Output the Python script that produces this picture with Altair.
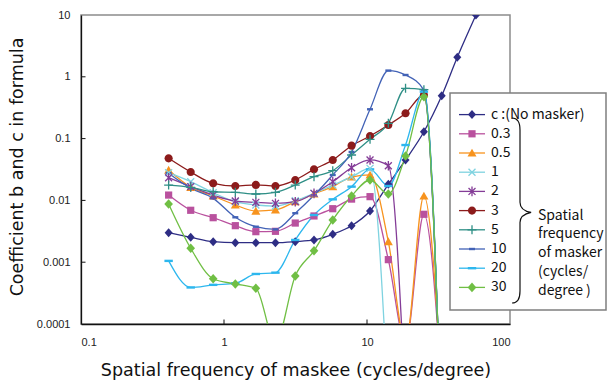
import altair as alt
import pandas as pd

# ---------------- data ----------------
XS = [0.41, 0.585, 0.84, 1.2, 1.67, 2.29, 3.15, 4.26, 5.76, 7.8, 10.5, 14.1, 18.6, 25.0, 33.3, 42.8, 57.8]

C_NO_MASKER = [0.0030, 0.00253, 0.00215, 0.00207, 0.00207, 0.00207, 0.00215, 0.00229, 0.00283,
               0.00389, 0.00673, 0.0182, 0.0451, 0.129, 0.494, 2.07, 10.0]
M03 = [0.0122, 0.00692, 0.00525, 0.0039, 0.00312, 0.00316, 0.0043, 0.0056, 0.00734, 0.0105, 0.0115,
       0.0011, 5e-5, 0.00596, 1e-5]
M05 = [0.031, 0.0163, 0.0118, 0.00843, 0.00673, 0.0070, 0.00952, 0.0127, 0.0167, 0.0239, 0.0258,
       0.00215, 5e-5, 0.0118, 1e-5]
M1 = [0.0281, 0.0201, 0.0133, 0.00953, 0.00843, 0.0081, 0.0099, 0.013, 0.0177, 0.024, 0.033, 5e-6]
M2 = [0.0233, 0.0167, 0.0122, 0.00977, 0.0093, 0.00897, 0.00952, 0.0130, 0.0201, 0.0338, 0.0451,
      0.0364, 5e-6]
M3 = [0.048, 0.0288, 0.0189, 0.0171, 0.0178, 0.0171, 0.0214, 0.0318, 0.0451, 0.0768, 0.110, 0.166,
      0.257, 0.508, 1.6e-6]
M5 = [0.0177, 0.0163, 0.0138, 0.0135, 0.0127, 0.0135, 0.0177, 0.0242, 0.0303, 0.0543, 0.0975, 0.177,
      0.652, 0.62, 1.6e-6]
M10 = [0.0275, 0.0157, 0.0108, 0.00533, 0.00375, 0.0034, 0.0062, 0.0121, 0.0258, 0.0607, 0.298, 1.26,
       1.07, 0.61, 1.6e-6]
M20 = [0.00105, 0.00039, 0.00043, 0.000456, 0.000645, 0.000677, 0.00229, 0.0058, 0.0104, 0.0167,
       0.0318, 0.0171, 0.0787, 0.574, 1.6e-6]
M30 = [0.00875, 0.00168, 0.00054, 0.000444, 0.000378, 5e-5, 0.000598, 0.00153, 0.00482, 0.0118,
       0.0214, 0.0127, 0.0523, 0.476, 1.6e-6]

SERIES = ["c", "0.3", "0.5", "1", "2", "3", "5", "10", "20", "30"]
LABELS = ["c :(No masker)", "0.3", "0.5", "1", "2", "3", "5", "10", "20", "30"]
VALUES = [C_NO_MASKER, M03, M05, M1, M2, M3, M5, M10, M20, M30]

X_TICKS = [1, 10]
Y_TICKS = [0.001, 0.01, 0.1, 1]

# ---------------- styles ----------------
COLORS = ["#2E2D84", "#B9519E", "#F7931E", "#7FD3E0", "#843C97", "#8C1B1B", "#2F8F86",
          "#4262B6", "#2DB7EE", "#70BF44"]
SHAPES = [
    "M0,-0.75L0.667,0L0,0.75L-0.667,0Z",                        # diamond
    "M-0.6,-0.6H0.6V0.6H-0.6Z",                                  # square
    "M0,-0.72L0.75,0.6L-0.75,0.6Z",                              # triangle
    "M-0.58,-0.58L0.58,0.58M-0.58,0.58L0.58,-0.58",              # x
    "M-0.58,-0.58L0.58,0.58M-0.58,0.58L0.58,-0.58M0,-0.8L0,0.8",  # asterisk
    "M-0.68,0A0.68,0.68,0,1,0,0.68,0A0.68,0.68,0,1,0,-0.68,0Z",  # circle
    "M-0.75,0L0.75,0M0,-0.75L0,0.75",                            # plus
    "M-0.5,-0.2H0.5V0.2H-0.5Z",                                  # short dash
    "M-0.7,-0.2H0.7V0.2H-0.7Z",                                  # dash
    "M0,-0.8L0.72,0L0,0.8L-0.72,0Z",                             # diamond
]
FILLED = ["c", "0.3", "0.5", "3", "10", "20", "30"]
STROKED = ["1", "2", "5"]

rows = []
for s, vals in zip(SERIES, VALUES):
    for x, y in zip(XS, vals):
        if y is not None:
            rows.append({"series": s, "x": x, "y": y})
df = pd.DataFrame(rows)

FONT_JP = "Noto Sans CJK JP"
FONT_AX = "Liberation Sans"
FONT_TITLE = "DejaVu Sans"

color = alt.Color("series:N", scale=alt.Scale(domain=SERIES, range=COLORS), legend=None)
shape = alt.Shape("series:N", scale=alt.Scale(domain=SERIES, range=SHAPES), legend=None)

x_enc = alt.X(
    "x:Q",
    scale=alt.Scale(type="log", domain=[0.1, 100]),
    axis=alt.Axis(values=[0.1, 1, 10, 100], format="~g", ticks=False, tickSize=0, grid=False,
                  labelPadding=12, labelFontSize=11, labelFont=FONT_AX, labelColor="#222",
                  domainColor="#111", domainWidth=1.3,
                  title="Spatial frequency of maskee (cycles/degree)",
                  titleFont=FONT_TITLE, titleFontSize=17.5, titleFontWeight="normal", titleColor="#111",
                  titleX=214.5, titleY=46, titleBaseline="middle"),
)
y_enc = alt.Y(
    "y:Q",
    scale=alt.Scale(type="log", domain=[0.0001, 10]),
    axis=alt.Axis(values=[0.0001, 0.001, 0.01, 0.1, 1, 10], format="~g", ticks=False, tickSize=0,
                  grid=False, labelPadding=11, labelFontSize=11, labelFont=FONT_AX, labelColor="#222",
                  domainColor="#111", domainWidth=1.3,
                  title="Coefficient b and c in formula",
                  titleFont=FONT_TITLE, titleFontSize=17.5, titleFontWeight="normal", titleColor="#111",
                  titleX=-64, titleY=151.5, titleAngle=270, titleBaseline="middle", titleAlign="center"),
)

base = alt.Chart(df)
lines = base.mark_line(interpolate="monotone", strokeWidth=1.3, clip=True).encode(
    x=x_enc, y=y_enc, color=color)
pts_f = base.mark_point(filled=True, opacity=1, size=144, clip=True).encode(
    x=x_enc, y=y_enc, color=color, shape=shape
).transform_filter(alt.FieldOneOfPredicate(field="series", oneOf=FILLED)).transform_filter("datum.y >= 0.0001")
pts_s = base.mark_point(filled=False, opacity=1, size=144, strokeWidth=1.3, clip=True).encode(
    x=x_enc, y=y_enc, color=color, shape=shape
).transform_filter(alt.FieldOneOfPredicate(field="series", oneOf=STROKED)).transform_filter("datum.y >= 0.0001")

xt = alt.Chart(pd.DataFrame({"x": X_TICKS})).mark_rule(color="#111", strokeWidth=1).encode(
    x=x_enc, y=alt.value(309), y2=alt.value(304.5))
yt = alt.Chart(pd.DataFrame({"y": Y_TICKS})).mark_rule(color="#111", strokeWidth=1).encode(
    y=y_enc, x=alt.value(0), x2=alt.value(4.5))

data_layer = alt.layer(lines, pts_f, pts_s, xt, yt)

# ---------------- legend (drawn inside a layer of its own) ----------------
leg_df = pd.DataFrame({"series": SERIES, "label": LABELS})
one = pd.DataFrame({"k": [0]})
y_leg = alt.Y("series:N", scale=alt.Scale(domain=SERIES, range=[90, 282], padding=0), axis=None)

box = alt.Chart(one).mark_rect(fill="white", stroke="#7f7f7f", strokeWidth=1.5).encode(
    x=alt.value(369), x2=alt.value(525), y=alt.value(78), y2=alt.value(295))
leg_lines = alt.Chart(leg_df).mark_rule(strokeWidth=1.3).encode(
    x=alt.value(378), x2=alt.value(404), y=y_leg, color=color)
leg_pf = alt.Chart(leg_df).mark_point(filled=True, opacity=1, size=144).encode(
    x=alt.value(391), y=y_leg, color=color, shape=shape
).transform_filter(alt.FieldOneOfPredicate(field="series", oneOf=FILLED))
leg_ps = alt.Chart(leg_df).mark_point(filled=False, opacity=1, size=144, strokeWidth=1.3).encode(
    x=alt.value(391), y=y_leg, color=color, shape=shape
).transform_filter(alt.FieldOneOfPredicate(field="series", oneOf=STROKED))
leg_text = alt.Chart(leg_df).mark_text(align="left", baseline="middle", font=FONT_JP, fontSize=14,
                                        color="#111").encode(x=alt.value(410), y=y_leg, text="label:N")

BRACE = "M-0.086,-1Q0,-1,0,-0.87L0,-0.09Q0,0,0.12,0.02Q0,0.045,0,0.13L0,0.87Q0,1,-0.086,1"
brace = alt.Chart(one).mark_point(shape=BRACE, size=34225, filled=False, opacity=1, color="#111",
                                  strokeWidth=1.2).encode(x=alt.value(439), y=alt.value(195.5))
side = alt.Chart(one).mark_text(align="left", baseline="middle", font=FONT_JP, fontSize=14,
                                lineHeight=18.8, color="#111",
                                text=["Spatial", "frequency", "of masker", "(cycles/",
                                      "\u00a0\u00a0degree )"]
                                ).encode(x=alt.value(457), y=alt.value(200.5))

legend_layer = alt.layer(box, leg_lines, leg_pf, leg_ps, leg_text, brace, side)

chart = alt.layer(data_layer, legend_layer).resolve_scale(y="independent").properties(
    width=429, height=309, autosize="none",
    padding={"left": 81, "top": 15, "right": 101, "bottom": 59},
    background="white",
).configure_view(stroke="#8c8c8c", strokeWidth=1.5)

chart.save("out.html", embed_options={"renderer": "svg", "actions": False})
